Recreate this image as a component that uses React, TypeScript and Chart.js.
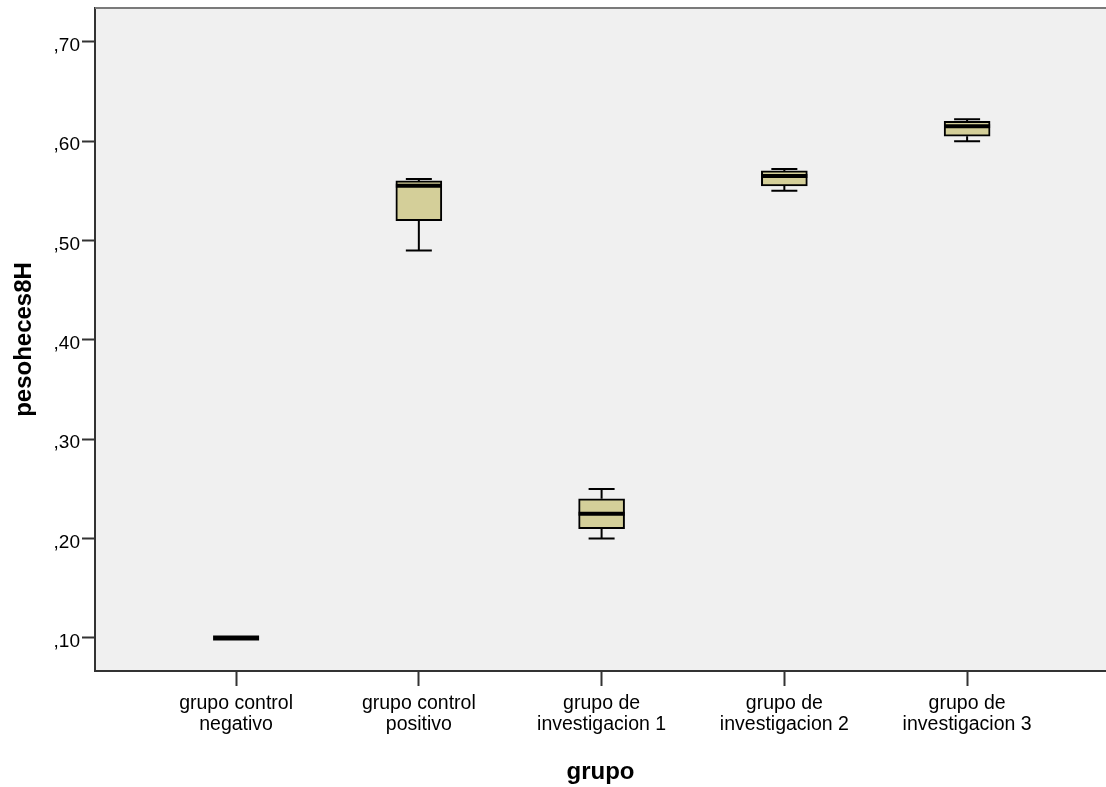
import React, { useEffect, useRef } from "react";
import { Chart, registerables } from "chart.js";

Chart.register(...registerables);

const categories: string[][] = [
  ["grupo control", "negativo"],
  ["grupo control", "positivo"],
  ["grupo de", "investigacion 1"],
  ["grupo de", "investigacion 2"],
  ["grupo de", "investigacion 3"],
];
const minValues = [0.1, 0.49, 0.2, 0.55, 0.6];
const q1Values = [0.1, 0.52, 0.21, 0.555, 0.605];
const medianValues = [0.1, 0.555, 0.225, 0.565, 0.615];
const q3Values = [0.1, 0.56, 0.24, 0.57, 0.62];
const maxValues = [0.1, 0.562, 0.25, 0.572, 0.622];
const yTickValues = [0.1, 0.2, 0.3, 0.4, 0.5, 0.6, 0.7];
const xTitle = "grupo";
const yTitle = "pesoheces8H";

const BOX_W = 46;
const CAP_W = 26;

const boxPlugin = {
  id: "boxWhiskers",
  beforeDraw(chart: any) {
    const { ctx, chartArea } = chart;
    ctx.save();
    ctx.fillStyle = "#f0f0f0";
    ctx.fillRect(chartArea.left, chartArea.top, chartArea.right - chartArea.left, chartArea.bottom - chartArea.top);
    ctx.restore();
  },
  afterDatasetsDraw(chart: any) {
    const { ctx, chartArea } = chart;
    const x = chart.scales.x;
    const y = chart.scales.y;
    ctx.save();
    ctx.strokeStyle = "#000";
    ctx.lineCap = "butt";
    categories.forEach((_, i) => {
      const cx = x.getPixelForValue(i + 1);
      const yMin = y.getPixelForValue(minValues[i]);
      const yQ1 = y.getPixelForValue(q1Values[i]);
      const yQ3 = y.getPixelForValue(q3Values[i]);
      const yMax = y.getPixelForValue(maxValues[i]);
      const yMed = y.getPixelForValue(medianValues[i]);
      ctx.lineWidth = 2;
      if (maxValues[i] > q3Values[i]) {
        ctx.beginPath();
        ctx.moveTo(cx, yQ3);
        ctx.lineTo(cx, yMax);
        ctx.moveTo(cx - CAP_W / 2, yMax);
        ctx.lineTo(cx + CAP_W / 2, yMax);
        ctx.stroke();
      }
      if (minValues[i] < q1Values[i]) {
        ctx.beginPath();
        ctx.moveTo(cx, yQ1);
        ctx.lineTo(cx, yMin);
        ctx.moveTo(cx - CAP_W / 2, yMin);
        ctx.lineTo(cx + CAP_W / 2, yMin);
        ctx.stroke();
      }
      ctx.lineWidth = q1Values[i] === q3Values[i] ? 5 : 4;
      ctx.beginPath();
      ctx.moveTo(cx - BOX_W / 2, yMed);
      ctx.lineTo(cx + BOX_W / 2, yMed);
      ctx.stroke();
    });
    // top frame line
    ctx.strokeStyle = "#7a7a7a";
    ctx.lineWidth = 2;
    ctx.beginPath();
    ctx.moveTo(chartArea.left, chartArea.top);
    ctx.lineTo(chartArea.right, chartArea.top);
    ctx.stroke();
    ctx.restore();
  },
};

export default function App() {
  const canvasRef = useRef<HTMLCanvasElement | null>(null);

  useEffect(() => {
    if (!canvasRef.current) return;
    const chart = new Chart(canvasRef.current, {
      type: "bar",
      data: {
        datasets: [
          {
            data: categories.map((_, i) => ({ x: i + 1, y: [q1Values[i], q3Values[i]] })) as any,
            backgroundColor: "#d4cf99",
            borderColor: "#000",
            borderWidth: 2,
            borderSkipped: false,
            barThickness: BOX_W,
          },
        ],
      },
      options: {
        animation: false,
        responsive: false,
        layout: { padding: { top: 8, left: 0, right: 0, bottom: 0 } },
        plugins: {
          legend: { display: false },
          tooltip: { enabled: false },
        },
        scales: {
          x: {
            type: "linear",
            offset: false,
            min: 0.228,
            max: 5.76,
            afterBuildTicks: (s: any) => {
              s.ticks = categories.map((_, i) => ({ value: i + 1 }));
            },
            afterFit: (s: any) => {
              s.height = 116;
              s.paddingLeft = 0;
              s.paddingRight = 0;
            },
            ticks: {
              callback: (v: any) => categories[Math.round(Number(v)) - 1] ?? "",
              font: { family: "'Liberation Sans', Arial, sans-serif", size: 19.5, lineHeight: 1.03 },
              color: "#000",
              maxRotation: 0,
              autoSkip: false,
              padding: 8,
            },
            grid: {
              offset: false,
              drawOnChartArea: false,
              drawTicks: true,
              tickLength: 15,
              tickWidth: 2,
              tickColor: "#333",
            },
            border: { display: true, color: "#333", width: 2 },
            title: {
              display: true,
              text: xTitle,
              color: "#000",
              font: { family: "'Liberation Sans', Arial, sans-serif", size: 24, weight: "bold" },
              padding: { top: 4, bottom: 0 },
            },
          },
          y: {
            type: "linear",
            min: 0.0667,
            max: 0.734,
            afterBuildTicks: (s: any) => {
              s.ticks = yTickValues.map((v) => ({ value: v }));
            },
            afterFit: (s: any) => {
              s.width = 95;
              s.paddingTop = 0;
              s.paddingBottom = 0;
            },
            ticks: {
              callback: (v: any) => "," + String(Math.round(Number(v) * 100)).padStart(2, "0"),
              font: { family: "'Liberation Sans', Arial, sans-serif", size: 19 },
              color: "#000",
              padding: 2,
              labelOffset: 4,
            },
            grid: {
              drawOnChartArea: false,
              drawTicks: true,
              tickLength: 13,
              tickWidth: 2,
              tickColor: "#333",
            },
            border: { display: true, color: "#333", width: 2 },
            title: {
              display: true,
              text: yTitle,
              color: "#000",
              font: { family: "'Liberation Sans', Arial, sans-serif", size: 24, weight: "bold" },
              padding: { top: 10, bottom: 0 },
            },
          },
        },
      },
      plugins: [boxPlugin],
    } as any);
    return () => chart.destroy();
  }, []);

  return (
    <div style={{ position: "fixed", left: 0, top: 0, width: 1106, height: 787, overflow: "hidden", background: "#fff" }}>
      <canvas ref={canvasRef} width={1106} height={787} style={{ display: "block" }} />
    </div>
  );
}
